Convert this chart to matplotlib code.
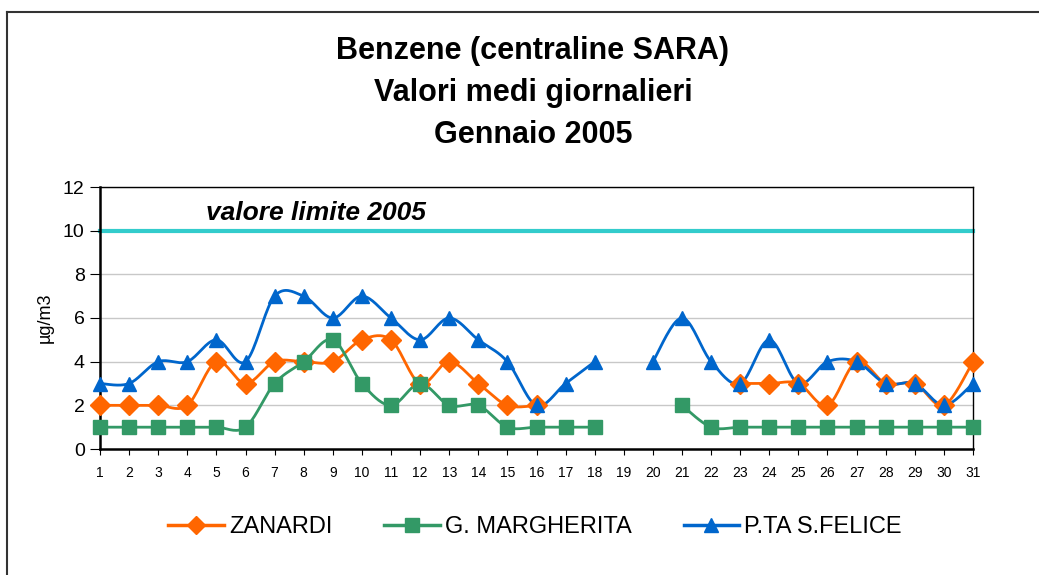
import numpy as np
import matplotlib
matplotlib.use("Agg")
import matplotlib.pyplot as plt
from matplotlib.lines import Line2D

plt.rcParams['font.family'] = ['Liberation Sans', 'DejaVu Sans']

giorni = list(range(1, 32))
nan = np.nan
# daily mean values, ug/m3
zanardi = [2, 2, 2, 2, 4, 3, 4, 4, 4, 5, 5, 3, 4, 3, 2, 2,
           nan, nan, nan, nan, nan, nan,
           3, 3, 3, 2, 4, 3, 3, 2, 4]
margherita = [1, 1, 1, 1, 1, 1, 3, 4, 5, 3, 2, 3, 2, 2, 1, 1, 1, 1,
              nan, nan,
              2, 1, 1, 1, 1, 1, 1, 1, 1, 1, 1]
sfelice = [3, 3, 4, 4, 5, 4, 7, 7, 6, 7, 6, 5, 6, 5, 4, 2, 3, 4,
           nan,
           4, 6, 4, 3, 5, 3, 4, 4, 3, 3, 2, 3]
limite = 10

serie = [("ZANARDI", zanardi, "#FF6600", "D", 10),
         ("G. MARGHERITA", margherita, "#339966", "s", 10.5),
         ("P.TA S.FELICE", sfelice, "#0066CC", "^", 10.5)]


def smooth(x, y, n=20):
    # excel-like smoothed line (catmull-rom bezier) on each run without gaps
    x = np.asarray(x, float)
    y = np.asarray(y, float)
    ok = ~np.isnan(y)
    runs = []
    start = None
    for i in range(len(y)):
        if ok[i] and start is None:
            start = i
        if (not ok[i] or i == len(y) - 1) and start is not None:
            end = i if ok[i] else i - 1
            runs.append((start, end))
            start = None
    out = []
    for a, b in runs:
        px = x[a:b + 1]
        py = y[a:b + 1]
        if len(px) == 1:
            continue
        xs, ys = [], []
        for k in range(len(px) - 1):
            p0 = np.array([px[max(k - 1, 0)], py[max(k - 1, 0)]])
            p1 = np.array([px[k], py[k]])
            p2 = np.array([px[k + 1], py[k + 1]])
            p3 = np.array([px[min(k + 2, len(px) - 1)], py[min(k + 2, len(px) - 1)]])
            c1 = p1 + (p2 - p0) / 6
            c2 = p2 - (p3 - p1) / 6
            t = np.linspace(0, 1, n)[:, None]
            pts = ((1 - t) ** 3 * p1 + 3 * (1 - t) ** 2 * t * c1
                   + 3 * (1 - t) * t ** 2 * c2 + t ** 3 * p2)
            xs.extend(pts[:, 0])
            ys.extend(pts[:, 1])
        out.append((xs, ys))
    return out


fig = plt.figure(figsize=(10.39, 5.75), dpi=100)
ax = fig.add_axes([100 / 1039, 1 - 449 / 575, 873 / 1039, 262 / 575])

for y in range(2, 13, 2):
    ax.axhline(y, color="#C8C8C8", lw=1, zorder=0)
ax.axhline(limite, color="#33CCCC", lw=3, zorder=1, clip_on=False)
ax.text(4.65, 10.8, "valore limite 2005", fontsize=19, fontweight="bold",
        style="italic", va="center", ha="left")

handles = []
for nome, vals, col, mk, ms in serie:
    for xs, ys in smooth(giorni, vals):
        ax.plot(xs, ys, color=col, lw=2, zorder=2, clip_on=False)
    ax.plot(giorni, vals, linestyle="none", marker=mk, color=col,
            markersize=ms, zorder=3, clip_on=False)
    handles.append(Line2D([0], [0], color=col, lw=2.5, marker=mk, markersize=ms - 0.5))

ax.set_xlim(1, 31)
ax.set_ylim(0, 12)
ax.set_xticks(giorni)
ax.set_yticks(range(0, 13, 2))
ax.tick_params(axis="y", direction="out", length=7, color="black", labelsize=14, pad=4)
ax.tick_params(axis="x", direction="out", length=4, color="black", labelsize=10, pad=8)
for s in ["top", "right"]:
    ax.spines[s].set_linewidth(1)
ax.spines["left"].set_linewidth(1.8)
ax.spines["bottom"].set_linewidth(1.8)
ax.set_ylabel("µg/m3", fontsize=13)
ax.yaxis.set_label_coords(-46 / 873, 0.5)

fig.text(533 / 1039, 1 - 51 / 575, "Benzene (centraline SARA)", ha="center",
         va="center", fontsize=22, fontweight="bold")
fig.text(533 / 1039, 1 - 93 / 575, "Valori medi giornalieri", ha="center",
         va="center", fontsize=22, fontweight="bold")
fig.text(533 / 1039, 1 - 135 / 575, "Gennaio 2005", ha="center",
         va="center", fontsize=22, fontweight="bold")

fig.legend(handles, [s[0] for s in serie], loc="center", ncol=3,
           bbox_to_anchor=(535 / 1039, 1 - 527 / 575), frameon=False,
           fontsize=17, handlelength=2.35, handletextpad=0.22, columnspacing=2.2)

fig.add_artist(Line2D([7 / 1039, 1], [1 - 12 / 575, 1 - 12 / 575],
                      transform=fig.transFigure, color="#333333", lw=1.5))
fig.add_artist(Line2D([7 / 1039, 7 / 1039], [0, 1 - 12 / 575],
                      transform=fig.transFigure, color="#333333", lw=1.5))

fig.savefig("out.png", dpi=100)
